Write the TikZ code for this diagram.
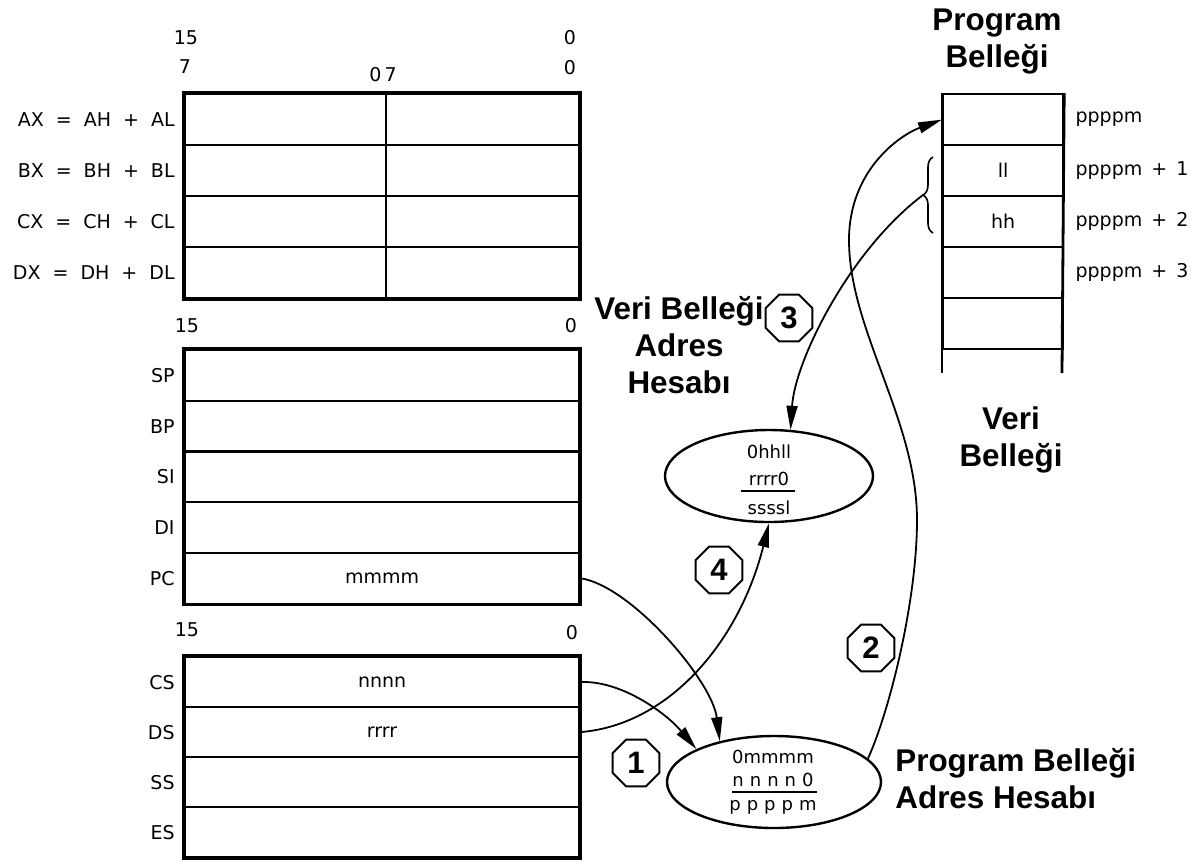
\documentclass[tikz,border=0pt]{standalone}
\usepackage{fontspec}
\setmainfont{Liberation Sans}
\newfontfamily\regfont{DejaVu Sans}
\usetikzlibrary{shapes.geometric,arrows.meta,decorations.pathreplacing}
\newcommand\rgap{\hspace{6pt}}
\newcommand\pgap{\hspace{4.5pt}}
\begin{document}
\begin{tikzpicture}[x=0.5pt,y=-0.5pt,
  small/.style={inner sep=0, font=\regfont\fontsize{9.5}{11}\selectfont},
  row/.style={draw, line width=1.1pt, minimum width=197pt, inner sep=0, anchor=north west, small},
  cell/.style={draw, line width=1.1pt, minimum width=60pt, minimum height=25.5pt, inner sep=0, anchor=north west, small},
  lab/.style={small, anchor=east},
  title/.style={inner sep=0, font=\bfseries\fontsize{15.7}{18.5}\selectfont, align=center},
  octo/.style={draw, line width=1pt, regular polygon, regular polygon sides=8, minimum size=25.4pt, inner sep=0, font=\bfseries\fontsize{15.5}{16}\selectfont},
  calc/.style={draw, line width=1.2pt, ellipse, inner sep=0},
  etext/.style={inner sep=0, font=\regfont\fontsize{9}{10}\selectfont},
  conn/.style={line width=0.9pt, -{Triangle[length=12pt,width=5.5pt]}},
]
\useasboundingbox (0,0) rectangle (1201,864);

% ---------- general registers ----------
\node[small] (h15a) at (186,38) {15};
\node[small] (h0a) at (570,38) {0};
\node[small] (h7) at (185,67) {7};
\node[small] (h07) at (383,75) {0\,7};
\node[small] (h0b) at (570,68) {0};
\node[row, minimum height=25.5pt] (t1) at (184,93) {};
\node[row, minimum height=25.5pt] (t2) at (184,144) {};
\node[row, minimum height=25.5pt] (t3) at (184,195) {};
\node[row, minimum height=25.5pt] (t4) at (184,246) {};
\draw[line width=1.6pt] (t1.north west) rectangle (t4.south east);
\draw[line width=1.1pt] (386,93) -- (386,297);
\node[lab] (lax) at ([xshift=-4.5pt]t1.west) {AX\rgap=\rgap AH\rgap+\rgap AL};
\node[lab] (lbx) at ([xshift=-4.5pt]t2.west) {BX\rgap=\rgap BH\rgap+\rgap BL};
\node[lab] (lcx) at ([xshift=-4.5pt]t3.west) {CX\rgap=\rgap CH\rgap+\rgap CL};
\node[lab] (ldx) at ([xshift=-4.5pt]t4.west) {DX\rgap=\rgap DH\rgap+\rgap DL};

% ---------- pointer registers ----------
\node[small] (h15b) at (187,326) {15};
\node[small] (h0c) at (571,326) {0};
\node[row, minimum height=25.35pt] (m1) at (184,349) {};
\node[row, minimum height=25.35pt] (m2) at (184,399.7) {};
\node[row, minimum height=25.35pt] (m3) at (184,450.4) {};
\node[row, minimum height=25.35pt] (m4) at (184,501.1) {};
\node[row, minimum height=25.35pt] (m5) at (184,551.8) {mmmm};
\draw[line width=1.6pt] (m1.north west) rectangle (m5.south east);
\node[lab] (lsp) at ([xshift=-4.5pt]m1.west) {SP};
\node[lab] (lbp) at ([xshift=-4.5pt]m2.west) {BP};
\node[lab] (lsi) at ([xshift=-4.5pt]m3.west) {SI};
\node[lab] (ldi) at ([xshift=-4.5pt]m4.west) {DI};
\node[lab] (lpc) at ([xshift=-4.5pt]m5.west) {PC};

% ---------- segment registers ----------
\node[small] (h15c) at (187,630) {15};
\node[small] (h0d) at (572,633) {0};
\node[row, minimum height=25pt] (s1) at (184,656) {nnnn};
\node[row, minimum height=25pt] (s2) at (184,706) {rrrr};
\node[row, minimum height=25pt] (s3) at (184,756) {};
\node[row, minimum height=25pt] (s4) at (184,806) {};
\draw[line width=1.6pt] (s1.north west) rectangle (s4.south east);
\node[lab] (lcs) at ([xshift=-4.5pt]s1.west) {CS};
\node[lab] (lds) at ([xshift=-4.5pt]s2.west) {DS};
\node[lab] (lss) at ([xshift=-4.5pt]s3.west) {SS};
\node[lab] (les) at ([xshift=-4.5pt]s4.west) {ES};

% ---------- program memory ----------
\node[title] (tprog) at (997,41.5) {Program\\Belleği};
\node[cell] (p1) at (942,93) {};
\node[cell] (p2) at (942,144) {ll};
\node[cell] (p3) at (942,195) {hh};
\node[cell] (p4) at (942,246) {};
\node[cell] (p5) at (942,297) {};
\draw[line width=1.4pt] (p1.north west) -- (942,373);
\draw[line width=1.4pt] (p1.north east) -- (1062,373);
\node[small, anchor=west] (a0) at ([xshift=5.5pt]p1.east) {ppppm};
\node[small, anchor=west] (a1) at ([xshift=5.5pt]p2.east) {ppppm\pgap+\pgap1};
\node[small, anchor=west] (a2) at ([xshift=5.5pt]p3.east) {ppppm\pgap+\pgap2};
\node[small, anchor=west] (a3) at ([xshift=5.5pt]p4.east) {ppppm\pgap+\pgap3};
\draw[line width=0.8pt, decorate, decoration={brace, amplitude=5pt}] (933,233) -- (933,157);
\coordinate (bt) at (923,195);

% ---------- titles ----------
\node[title] (tveri) at (679,345) {Veri Belleği\\Adres\\Hesabı};
\node[title] (tvb) at (1011,440) {Veri\\Belleği};
\node[title, align=left, anchor=west] (tpa) at (895,779) {Program Belleği\\Adres Hesabı};

% ---------- address calculators ----------
\node[calc, minimum width=104pt, minimum height=46pt] (de) at (769,476) {};
\node[etext] (de1) at (769,452) {0hhll};
\node[etext] (de2) at (769,479) {rrrr0};
\node[etext] (de3) at (769,508) {ssssl};
\draw[line width=1pt] (741,491) -- (795,491);

\node[calc, minimum width=107pt, minimum height=46pt] (pe) at (774,782) {};
\node[etext] (pe1) at (773,757) {0mmmm};
\node[etext] (pe2) at (773,780) {n\,\,n\,\,n\,\,n\,\,0};
\node[etext] (pe3) at (773,807) {p\,\,p\,\,p\,\,p\,\,m};
\draw[line width=1pt] (732,792) -- (817,792);

% ---------- step markers ----------
\node[octo] (o1) at (636,763) {1};
\node[octo] (o2) at (871,648) {2};
\node[octo] (o3) at (789,318) {3};
\node[octo] (o4) at (719,570) {4};

% ---------- connectors ----------
\draw[conn] (m5.east) .. controls (630,585) and (712,680) .. (pe.143);
\draw[conn] (s1.east) .. controls (620,680) and (665,712) .. (pe.157);
\draw[conn] (s2.east) .. controls (670,725) and (740,640) .. (de.south);
\draw[conn] (pe.14) .. controls (890,710) and (917,600) .. (917,520)
  .. controls (917,420) and (849,330) .. (849,240)
  .. controls (849,170) and (900,135) .. (p1.west);
\draw[conn] (bt) .. controls (850,250) and (795,360) .. (de.65);
\end{tikzpicture}
\end{document}
